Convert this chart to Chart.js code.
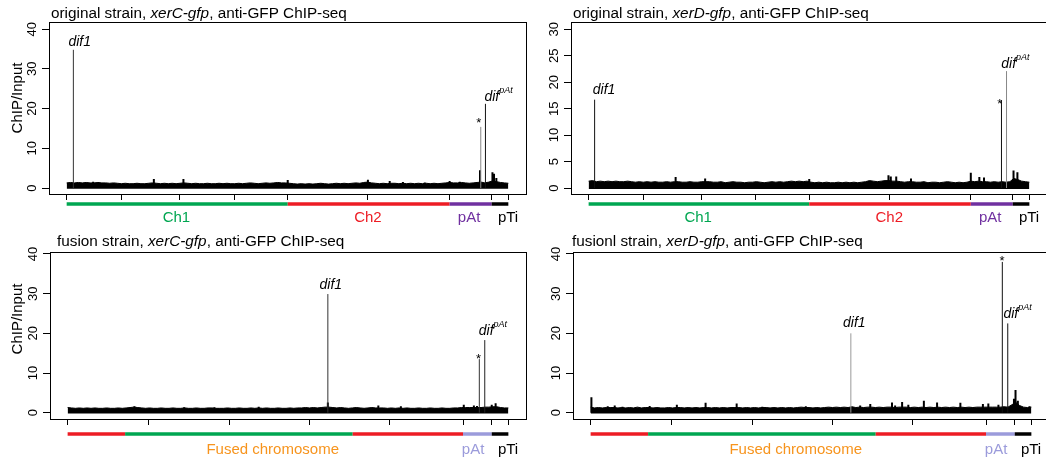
<!DOCTYPE html>
<html>
<head>
<meta charset="utf-8">
<script src="https://cdn.jsdelivr.net/npm/chart.js@4.4.0/dist/chart.umd.min.js"></script>
<style>
  html, body { margin: 0; padding: 0; background: #fff; overflow: hidden; width: 1046px; height: 460px; }
  canvas { position: absolute; }
</style>
</head>
<body>
<canvas id="p1" width="540" height="230" style="left:0;top:0"></canvas>
<canvas id="p2" width="540" height="230" style="left:523px;top:0"></canvas>
<canvas id="p3" width="540" height="230" style="left:0;top:230px"></canvas>
<canvas id="p4" width="540" height="230" style="left:523px;top:230px"></canvas>
<script>
// genome coordinates in Mb, replicons laid end to end
const GENOME_MB = 5.674;

const originalTicks = [0, 0.71, 1.45, 2.15, 2.84, 3.87, 4.92, 5.46, 5.674];
const fusionTicks = [0, 1.04, 2.08, 3.12, 4.14, 5.09, 5.46, 5.674];

// replicon boundaries (Mb) and names under the x axis
const originalBounds = [0, 2.84, 4.92, 5.46, 5.674];
const originalNames = ["Ch1", "Ch2", "pAt", "pTi"];
const originalNamePos = [1.41, 3.87, 5.17, 5.67];
const fusionBounds = [0, 0.74, 3.67, 5.09, 5.46, 5.674];
const fusionNames = ["Fused chromosome", "pAt", "pTi"];
const fusionNamePos = [2.64, 5.22, 5.67];

// ChIP/Input background, evenly binned along the genome
const xerCOriginalBg = [
  1.3, 1.4, 1.3, 1.4, 1.3, 1.4, 1.3, 1.3, 1.4, 1.3,
  1.3, 1.2, 1.3, 1.2, 1.1, 1.2, 1.1, 1.1, 1.2, 1.1,
  1.1, 1.2, 1.3, 1.2, 1.1, 1.2, 1.1, 1.2, 1.1, 1.2,
  1.3, 1.2, 1.1, 1.2, 1.1, 1.1, 1.2, 1.1, 1.1, 1.2,
  1.1, 1.2, 1.1, 1.1, 1.2, 1.1, 1.2, 1.3, 1.2, 1.1,
  1.2, 1.3, 1.2, 1.3, 1.4, 1.3, 1.3, 1.2, 1.1, 1.0,
  1.1, 1.0, 1.1, 1.0, 1.1, 1.2, 1.1, 1.0, 1.1, 1.2,
  1.1, 1.2, 1.1, 1.2, 1.3, 1.2, 1.4, 1.5, 1.3, 1.2,
  1.1, 1.2, 1.1, 1.2, 1.2, 1.1, 1.2, 1.1, 1.2, 1.1,
  1.2, 1.1, 1.2, 1.1, 1.2, 1.1, 1.2, 1.3, 1.4, 1.3,
  1.3, 1.4, 1.3, 1.2, 1.3, 1.4, 1.5, 1.3, 1.5, 1.8,
  1.6, 1.4, 1.3, 1.2
];
const xerDOriginalBg = [
  1.3, 1.4, 1.2, 1.3, 1.2, 1.3, 1.2, 1.3, 1.2, 1.2,
  1.3, 1.2, 1.1, 1.2, 1.1, 1.2, 1.1, 1.2, 1.1, 1.1,
  1.2, 1.1, 1.2, 1.2, 1.1, 1.1, 1.2, 1.1, 1.1, 1.2,
  1.2, 1.2, 1.1, 1.1, 1.2, 1.0, 1.1, 1.2, 1.1, 1.1,
  1.0, 1.1, 1.1, 1.2, 1.1, 1.0, 1.1, 1.2, 1.1, 1.2,
  1.1, 1.2, 1.3, 1.2, 1.3, 1.2, 1.3, 1.1, 1.0, 1.1,
  1.0, 1.1, 1.0, 1.0, 1.1, 1.0, 1.1, 1.0, 1.1, 1.0,
  1.1, 1.2, 1.4, 1.3, 1.2, 1.3, 1.4, 1.4, 1.3, 1.3,
  1.2, 1.1, 1.2, 1.2, 1.1, 1.1, 1.2, 1.0, 1.1, 1.1,
  1.0, 1.1, 1.2, 1.1, 1.0, 1.1, 1.0, 1.1, 1.3, 1.2,
  1.3, 1.2, 1.2, 1.1, 1.2, 1.1, 1.2, 1.1, 1.2, 1.8,
  1.6, 1.3, 1.2, 1.1
];
const xerCFusionBg = [
  1.3, 1.2, 1.1, 1.2, 1.1, 1.2, 1.1, 1.2, 1.1, 1.1,
  1.2, 1.1, 1.1, 1.2, 1.1, 1.2, 1.3, 1.4, 1.3, 1.2,
  1.1, 1.2, 1.1, 1.1, 1.2, 1.1, 1.1, 1.2, 1.1, 1.1,
  1.2, 1.1, 1.1, 1.2, 1.1, 1.1, 1.2, 1.2, 1.1, 1.1,
  1.1, 1.2, 1.1, 1.1, 1.2, 1.1, 1.1, 1.2, 1.1, 1.2,
  1.1, 1.2, 1.1, 1.1, 1.2, 1.1, 1.1, 1.2, 1.1, 1.2,
  1.2, 1.3, 1.2, 1.3, 1.2, 1.3, 1.4, 1.4, 1.3, 1.2,
  1.3, 1.2, 1.1, 1.2, 1.3, 1.2, 1.1, 1.2, 1.3, 1.2,
  1.2, 1.2, 1.1, 1.2, 1.1, 1.2, 1.1, 1.2, 1.1, 1.1,
  1.2, 1.1, 1.1, 1.2, 1.1, 1.1, 1.2, 1.1, 1.1, 1.2,
  1.2, 1.3, 1.3, 1.3, 1.3, 1.3, 1.3, 1.4, 1.4, 1.5,
  1.5, 1.3, 1.2, 1.2
];
const xerDFusionBg = [
  1.4, 1.2, 1.3, 1.2, 1.3, 1.3, 1.3, 1.2, 1.3, 1.2,
  1.3, 1.2, 1.4, 1.2, 1.3, 1.3, 1.2, 1.3, 1.2, 1.2,
  1.3, 1.2, 1.3, 1.3, 1.2, 1.3, 1.2, 1.3, 1.2, 1.3,
  1.3, 1.2, 1.3, 1.2, 1.3, 1.2, 1.3, 1.3, 1.3, 1.2,
  1.3, 1.2, 1.3, 1.2, 1.3, 1.3, 1.2, 1.3, 1.2, 1.3,
  1.2, 1.3, 1.2, 1.3, 1.4, 1.3, 1.3, 1.2, 1.3, 1.2,
  1.3, 1.4, 1.3, 1.4, 1.3, 1.4, 1.3, 1.5, 1.3, 1.4,
  1.3, 1.4, 1.4, 1.3, 1.4, 1.3, 1.4, 1.4, 1.3, 1.4,
  1.4, 1.4, 1.3, 1.4, 1.3, 1.4, 1.3, 1.4, 1.3, 1.4,
  1.3, 1.4, 1.3, 1.4, 1.3, 1.4, 1.3, 1.4, 1.3, 1.4,
  1.4, 1.4, 1.4, 1.4, 1.4, 1.4, 1.5, 1.4, 2.0, 2.6,
  1.8, 1.4, 1.3, 1.4
];

// narrow local enrichments on top of the background (Mb, ChIP/Input)
const xerCOriginalMinorPos = [0.34, 1.12, 1.50, 2.84, 3.87, 4.15, 4.32, 4.60, 4.92, 5.05, 5.31, 5.47, 5.49, 5.52];
const xerCOriginalMinorVal = [1.6, 2.3, 2.3, 2.0, 2.1, 1.8, 1.5, 1.4, 1.8, 1.6, 4.5, 4.0, 3.6, 2.5];
const xerDOriginalMinorPos = [1.12, 1.50, 2.84, 3.86, 3.89, 3.96, 4.15, 4.92, 5.03, 5.09, 5.47, 5.52];
const xerDOriginalMinorVal = [2.1, 1.8, 1.7, 2.4, 2.2, 2.2, 1.8, 2.9, 2.1, 2.0, 3.3, 3.0];
const xerCFusionMinorPos = [0.86, 1.50, 1.89, 2.46, 3.35, 4.00, 4.29, 5.10, 5.23, 5.27, 5.46, 5.51];
const xerCFusionMinorVal = [1.6, 1.4, 1.4, 1.5, 2.6, 1.8, 1.6, 2.0, 1.8, 1.7, 2.0, 2.4];
const xerDFusionMinorPos = [0.01, 0.22, 0.31, 0.41, 0.76, 1.11, 1.48, 1.88, 2.21, 2.77, 3.47, 3.60, 3.88, 3.92,
  4.01, 4.09, 4.29, 4.46, 4.76, 5.05, 5.12, 5.25, 5.45, 5.47, 5.50, 5.65];
const xerDFusionMinorVal = [3.9, 1.6, 1.8, 1.5, 1.7, 2.0, 2.5, 2.3, 1.5, 1.6, 1.8, 2.2, 2.6, 1.8,
  2.7, 2.0, 3.0, 2.6, 2.5, 2.2, 2.3, 2.0, 3.5, 5.7, 3.0, 1.6];

// main peaks: dif1, the starred site, difpAt
const xerCOriginalPeakPos = [0.086, 5.32, 5.38];
const xerCOriginalPeakVal = [34.8, 15.4, 21.2];
const xerDOriginalPeakPos = [0.077, 5.315, 5.38];
const xerDOriginalPeakVal = [16.7, 16.6, 22.1];
const xerCFusionPeakPos = [3.35, 5.30, 5.37];
const xerCFusionPeakVal = [29.9, 13.5, 18.3];
const xerDFusionPeakPos = [3.35, 5.30, 5.37];
const xerDFusionPeakVal = [20.0, 38.0, 22.5];

const FONT = "'Liberation Sans', Arial, Helvetica, sans-serif";
const GREEN = "#00a651", RED = "#ed1c24", PURPLE = "#7030a0", LAVENDER = "#9b9bdb", ORANGE = "#f7941d";

function band(vals) {
  const step = GENOME_MB / (vals.length - 1);
  return vals.map((v, i) => ({ x: i * step, y: v }));
}

function spikes(pos, val) {
  const pts = [];
  pos.forEach((p, i) => {
    pts.push({ x: p, y: 0 }, { x: p, y: val[i] }, { x: p, y: null });
  });
  return pts;
}

function makeDecor(cfg) {
  return {
    id: "decor",
    afterDraw(chart) {
      const ctx = chart.ctx, a = chart.chartArea;
      const xs = chart.scales.x, ys = chart.scales.y;
      ctx.save();

      // frame
      ctx.strokeStyle = "#000";
      ctx.lineWidth = 1;
      ctx.strokeRect(Math.round(a.left) + 0.5, Math.round(a.top) + 0.5,
        Math.round(a.right - a.left), Math.round(a.bottom - a.top));

      // y tick labels, written along the axis
      ctx.fillStyle = "#000";
      ctx.font = "13px " + FONT;
      ctx.textAlign = "center";
      ctx.textBaseline = "middle";
      ys.ticks.forEach(t => {
        ctx.save();
        ctx.translate(a.left - 16.5, ys.getPixelForValue(t.value));
        ctx.rotate(-Math.PI / 2);
        ctx.fillText(String(t.value), 0, 0);
        ctx.restore();
      });

      if (cfg.ylab) {
        ctx.save();
        ctx.font = "15px " + FONT;
        ctx.translate(18, cfg.ylabY);
        ctx.rotate(-Math.PI / 2);
        ctx.fillText("ChIP/Input", 0, 0);
        ctx.restore();
      }

      // title, gene name in italics
      ctx.textAlign = "left";
      ctx.textBaseline = "alphabetic";
      let tx = cfg.titleX;
      cfg.title.forEach(([s, it]) => {
        ctx.font = (it ? "italic " : "") + "15.3px " + FONT;
        ctx.fillText(s, tx, cfg.titleY);
        tx += ctx.measureText(s).width;
      });

      // replicon bar under the axis
      ctx.lineWidth = 3.5;
      ctx.lineCap = "butt";
      for (let i = 0; i < cfg.bounds.length - 1; i++) {
        ctx.strokeStyle = cfg.barColors[i];
        ctx.beginPath();
        ctx.moveTo(xs.getPixelForValue(cfg.bounds[i]), cfg.barY);
        ctx.lineTo(xs.getPixelForValue(cfg.bounds[i + 1]), cfg.barY);
        ctx.stroke();
      }
      ctx.font = "15px " + FONT;
      ctx.textAlign = "center";
      cfg.names.forEach((n, i) => {
        ctx.fillStyle = cfg.nameColors[i];
        ctx.fillText(n, xs.getPixelForValue(cfg.namePos[i]), cfg.nameY);
      });

      // peak labels
      ctx.fillStyle = "#000";
      cfg.notes.forEach(n => {
        const px = xs.getPixelForValue(cfg.peakPos[n.peak]) + n.dx;
        const py = ys.getPixelForValue(cfg.peakVal[n.peak]) - n.gap;
        if (n.text === "*") {
          ctx.font = "13px " + FONT;
          ctx.textAlign = "center";
          ctx.fillText("*", px, py);
        } else if (n.sup) {
          ctx.font = "italic 14px " + FONT;
          ctx.textAlign = "left";
          ctx.fillText(n.text, px, py);
          const w = ctx.measureText(n.text).width;
          ctx.font = "italic 9px " + FONT;
          ctx.fillText(n.sup, px + w, py - 8);
        } else {
          ctx.font = "italic 14px " + FONT;
          ctx.textAlign = "center";
          ctx.fillText(n.text, px, py);
        }
      });
      ctx.restore();
    }
  };
}

function makePanel(cfg) {
  const a = cfg.area;
  return new Chart(document.getElementById(cfg.id), {
    type: "line",
    data: {
      datasets: [
        {
          data: spikes(cfg.peakPos, cfg.peakVal),
          borderColor: "#000",
          borderWidth: 1,
          pointRadius: 0,
          spanGaps: false,
          segment: { borderColor: c => cfg.spikeShade[Math.floor(c.p0DataIndex / 3)] },
        },
        {
          data: spikes(cfg.minorPos, cfg.minorVal),
          borderColor: "#000",
          borderWidth: 2,
          pointRadius: 0,
          spanGaps: false,
        },
        {
          data: band(cfg.background),
          borderColor: "#000",
          backgroundColor: "#000",
          borderWidth: 1,
          pointRadius: 0,
          fill: { value: -0.2 },
        },
      ],
    },
    options: {
      responsive: false,
      animation: false,
      events: [],
      layout: { autoPadding: false, padding: { left: 0, top: a.top, right: 540 - a.right, bottom: 0 } },
      plugins: { legend: { display: false }, tooltip: { enabled: false } },
      scales: {
        x: {
          type: "linear",
          min: -0.227,
          max: 5.901,
          afterBuildTicks: s => { s.ticks = cfg.xTicks.map(v => ({ value: v })); },
          afterFit: s => { s.height = 230 - a.bottom; },
          ticks: { display: false },
          grid: { drawOnChartArea: false, drawTicks: true, tickLength: 6, color: "#000" },
          border: { display: false },
        },
        y: {
          type: "linear",
          min: cfg.yMin,
          max: cfg.yMax,
          ticks: { display: false, stepSize: cfg.yStep, includeBounds: false },
          afterFit: s => { s.width = a.left; },
          grid: { drawOnChartArea: false, drawTicks: true, tickLength: 7, color: "#000" },
          border: { display: false },
        },
      },
    },
    plugins: [makeDecor(cfg)],
  });
}

const originalBar = {
  xTicks: originalTicks, bounds: originalBounds, barColors: [GREEN, RED, PURPLE, "#000"],
  names: originalNames, namePos: originalNamePos, nameColors: [GREEN, RED, PURPLE, "#000"],
  barY: 204, nameY: 222,
};
const fusionBar = {
  xTicks: fusionTicks, bounds: fusionBounds, barColors: [RED, GREEN, RED, LAVENDER, "#000"],
  names: fusionNames, namePos: fusionNamePos, nameColors: [ORANGE, LAVENDER, "#000"],
  barY: 204, nameY: 223.5,
};

makePanel(Object.assign({
  id: "p1",
  title: [["original strain, ", false], ["xerC-gfp", true], [", anti-GFP ChIP-seq", false]],
  titleX: 51, titleY: 17.5, ylab: true, ylabY: 98,
  area: { left: 49, top: 22, right: 526, bottom: 194 },
  yMin: -1.5, yMax: 41.8, yStep: 10,
  background: xerCOriginalBg, minorPos: xerCOriginalMinorPos, minorVal: xerCOriginalMinorVal,
  peakPos: xerCOriginalPeakPos, peakVal: xerCOriginalPeakVal,
  spikeShade: ["#333", "#888", "#111"],
  notes: [
    { text: "dif1", peak: 0, dx: 6.4, gap: 3.8 },
    { text: "*", peak: 1, dx: -2, gap: 0 },
    { text: "dif", sup: "pAt", peak: 2, dx: -1, gap: 3.3 },
  ],
}, originalBar));

makePanel(Object.assign({
  id: "p2",
  title: [["original strain, ", false], ["xerD-gfp", true], [", anti-GFP ChIP-seq", false]],
  titleX: 50, titleY: 17.5, ylab: false,
  area: { left: 48, top: 22, right: 524, bottom: 194 },
  yMin: -1.13, yMax: 31.38, yStep: 5,
  background: xerDOriginalBg, minorPos: xerDOriginalMinorPos, minorVal: xerDOriginalMinorVal,
  peakPos: xerDOriginalPeakPos, peakVal: xerDOriginalPeakVal,
  spikeShade: ["#111", "#111", "#888"],
  notes: [
    { text: "dif1", peak: 0, dx: 9.5, gap: 6 },
    { text: "*", peak: 1, dx: -1.6, gap: -7.4 },
    { text: "dif", sup: "pAt", peak: 2, dx: -5.3, gap: 2.7 },
  ],
}, originalBar));

makePanel(Object.assign({
  id: "p3",
  title: [["fusion strain, ", false], ["xerC-gfp", true], [", anti-GFP ChIP-seq", false]],
  titleX: 57, titleY: 15.5, ylab: true, ylabY: 89,
  area: { left: 50, top: 22, right: 526, bottom: 189 },
  yMin: -1.59, yMax: 40.5, yStep: 10,
  background: xerCFusionBg, minorPos: xerCFusionMinorPos, minorVal: xerCFusionMinorVal,
  peakPos: xerCFusionPeakPos, peakVal: xerCFusionPeakVal,
  spikeShade: ["#333", "#333", "#222"],
  notes: [
    { text: "dif1", peak: 0, dx: 3, gap: 4.7 },
    { text: "*", peak: 1, dx: -0.7, gap: -4.1 },
    { text: "dif", sup: "pAt", peak: 2, dx: -6, gap: 5 },
  ],
}, fusionBar));

makePanel(Object.assign({
  id: "p4",
  title: [["fusionl strain, ", false], ["xerD-gfp", true], [", anti-GFP ChIP-seq", false]],
  titleX: 49, titleY: 15.5, ylab: false,
  area: { left: 50, top: 22, right: 526, bottom: 189 },
  yMin: -1.59, yMax: 40.5, yStep: 10,
  background: xerDFusionBg, minorPos: xerDFusionMinorPos, minorVal: xerDFusionMinorVal,
  peakPos: xerDFusionPeakPos, peakVal: xerDFusionPeakVal,
  spikeShade: ["#999", "#111", "#111"],
  notes: [
    { text: "dif1", peak: 0, dx: 3.5, gap: 6 },
    { text: "*", peak: 1, dx: -0.3, gap: -3.4 },
    { text: "dif", sup: "pAt", peak: 2, dx: -4.3, gap: 5 },
  ],
}, fusionBar));
</script>
</body>
</html>
